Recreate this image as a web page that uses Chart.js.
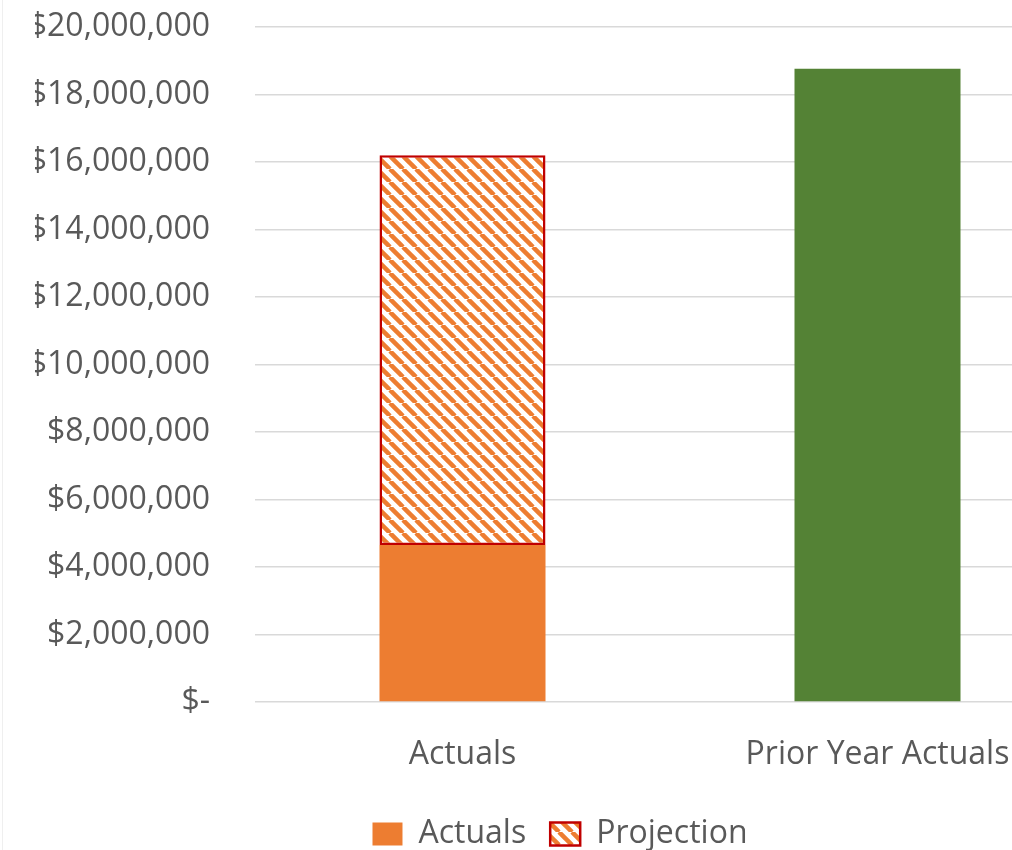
<!DOCTYPE html>
<html>
<head>
<meta charset="utf-8">
<script src="https://cdn.jsdelivr.net/npm/chart.js@4.4.1/dist/chart.umd.min.js"></script>
<style>
    html, body { margin: 0; padding: 0; background: #fff; overflow: hidden; }
    #wrap { position: relative; width: 1012px; height: 850px; overflow: hidden; }
    #edge { position: absolute; left: 2px; top: 0; width: 1px; height: 850px; background: #efefef; }
</style>
</head>
<body>
<div id="wrap"><canvas id="budgetChart" width="1120" height="850"></canvas><div id="edge"></div></div>
<script>
// values
const categories = ['Actuals', 'Prior Year Actuals'];
const actuals = [4650000, null];
const projection = [11550000, null];
const priorYear = [null, 18760000];

// diagonal hatch for the projection
function makeHatch() {
    const s = 13;
    const c = document.createElement('canvas');
    c.width = s;
    c.height = s;
    const g = c.getContext('2d');
    g.fillStyle = '#ffffff';
    g.fillRect(0, 0, s, s);
    g.strokeStyle = '#ED7D31';
    g.lineWidth = 4.5;
    [-s, 0, s].forEach(a => {
        g.beginPath();
        g.moveTo(a, 0);
        g.lineTo(a + s, s);
        g.stroke();
    });
    return document.getElementById('budgetChart').getContext('2d').createPattern(c, 'repeat');
}

const fontFamily = '"Open Sans", "Noto Sans", sans-serif';
const textColor = '#595959';

const ctx = document.getElementById('budgetChart').getContext('2d');
const chart = new Chart(ctx, {
    type: 'bar',
    data: {
        labels: categories,
        datasets: [{
            label: 'Actuals',
            data: actuals,
            backgroundColor: '#ED7D31',
            borderWidth: 0,
        }, {
            label: 'Projection',
            data: projection,
            backgroundColor: makeHatch(),
            borderColor: '#C00000',
            borderWidth: 2.5,
            borderSkipped: false,
        }, {
            label: 'Prior Year Actuals',
            data: priorYear,
            backgroundColor: '#548235',
            borderWidth: 0,
        }]
    },
    options: {
        responsive: false,
        animation: false,
        devicePixelRatio: 1,
        barPercentage: 0.4,
        categoryPercentage: 1,
        layout: {
            padding: { top: 27, right: 35, left: 35, bottom: 0 }
        },
        plugins: {
            tooltip: { enabled: false },
            legend: {
                position: 'bottom',
                maxHeight: 56,
                labels: {
                    boxWidth: 30,
                    boxHeight: 23,
                    padding: 24,
                    color: textColor,
                    font: { family: fontFamily, size: 32 },
                    filter: item => item.text !== 'Prior Year Actuals'
                }
            }
        },
        scales: {
            x: {
                stacked: true,
                afterFit: scale => { scale.height = 92; },
                grid: { display: false, drawTicks: false },
                border: { display: false },
                ticks: {
                    padding: 34,
                    color: textColor,
                    font: { family: fontFamily, size: 32 }
                }
            },
            y: {
                stacked: true,
                min: 0,
                max: 20000000,
                afterFit: scale => {
                    scale.width = 220;
                    scale.paddingTop = 0;
                    scale.paddingBottom = 0;
                },
                grid: { color: '#D9D9D9', lineWidth: 1.5, drawTicks: false },
                border: { display: false },
                ticks: {
                    stepSize: 2000000,
                    padding: 45,
                    color: textColor,
                    font: { family: fontFamily, size: 32 },
                    callback: v => v === 0 ? '$-' : '$' + v.toLocaleString('en-US')
                }
            }
        }
    }
});
</script>
</body>
</html>
